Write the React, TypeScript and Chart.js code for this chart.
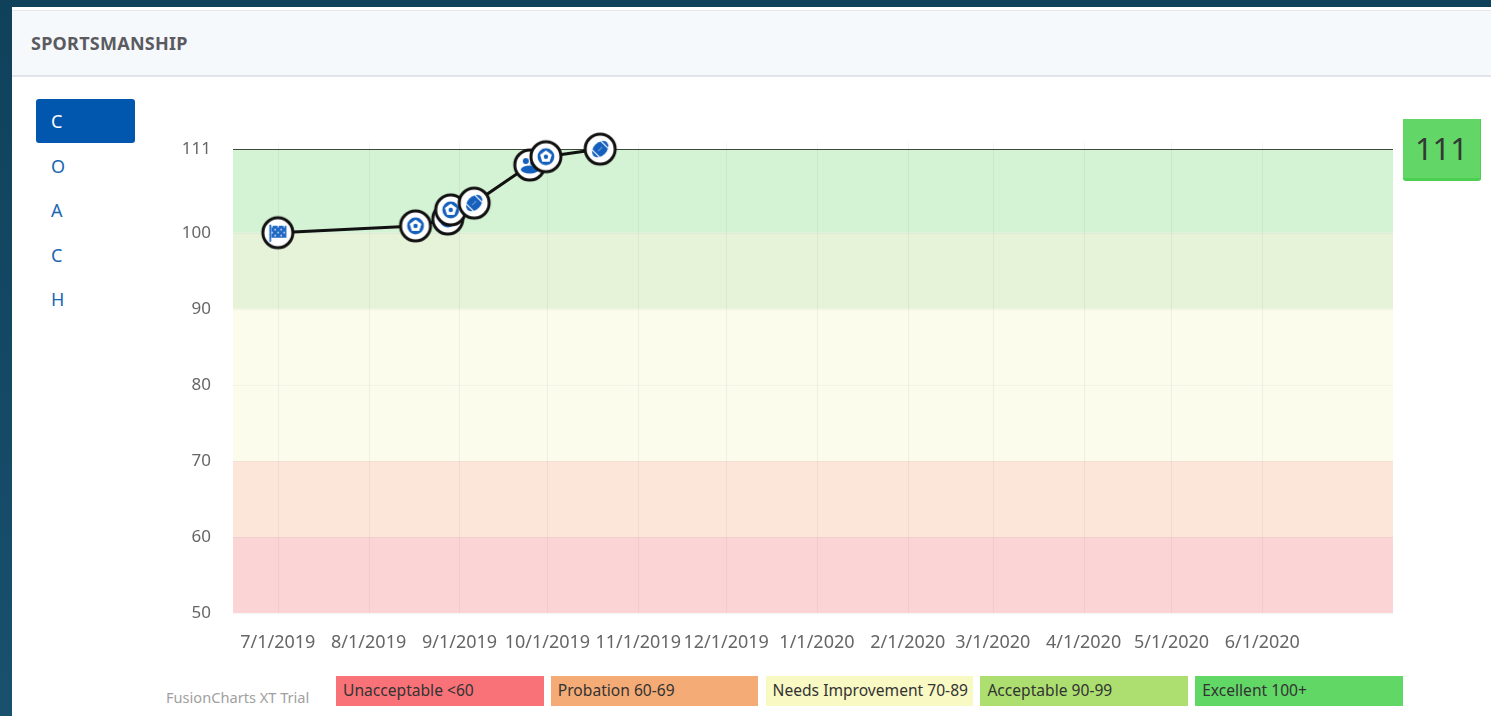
import React, { useEffect, useRef } from "react";
import { Chart, registerables } from "chart.js";

Chart.register(...registerables);

const tabLetters = ["C", "O", "A", "C", "H"];
const monthLabels = ["7/1/2019", "8/1/2019", "9/1/2019", "10/1/2019", "11/1/2019", "12/1/2019", "1/1/2020", "2/1/2020", "3/1/2020", "4/1/2020", "5/1/2020", "6/1/2020"];
const monthDays = [0, 31, 62, 92, 123, 153, 184, 215, 244, 275, 305, 336];
const pointDays = [0, 47, 58, 59, 67, 86, 91.5, 110];
const pointValues = [100, 100.9, 101.8, 103, 103.9, 108.9, 110, 111];
const pointIcons = ["flag", "ball", "ball", "ball", "football", "people", "ball", "football"];
const yTicks = [50, 60, 70, 80, 90, 100, 111];
const bandEdges = [[50, 60], [60, 70], [70, 90], [90, 100], [100, 111]];
const bandColors = ["#fbd5d6", "#fce6d9", "#fbfcec", "#e6f3d8", "#d4f2d4"];
const legendLabels = ["Unacceptable <60", "Probation 60-69", "Needs Improvement 70-89", "Acceptable 90-99", "Excellent 100+"];
const legendColors = ["#f87278", "#f5ab75", "#f9f9c4", "#acdf6f", "#61d765"];

const FONT = '"Noto Sans", sans-serif';
const BLUE = "#1560bd";

function makeIcon(kind: string): HTMLCanvasElement {
  const size = 36;
  const c = document.createElement("canvas");
  c.width = size;
  c.height = size;
  const g = c.getContext("2d")!;
  const m = size / 2;
  g.beginPath();
  g.arc(m, m, 15, 0, Math.PI * 2);
  g.fillStyle = "#ffffff";
  g.fill();
  g.lineWidth = 3;
  g.strokeStyle = "#111111";
  g.stroke();
  g.fillStyle = BLUE;
  g.strokeStyle = BLUE;
  if (kind === "ball") {
    g.beginPath();
    g.arc(m, m, 8.4, 0, Math.PI * 2);
    g.fill();
    g.fillStyle = "#ffffff";
    g.beginPath();
    for (let i = 0; i < 5; i++) {
      const a = -Math.PI / 2 + (i * 2 * Math.PI) / 5;
      const x = m + Math.cos(a) * 6.2;
      const y = m + Math.sin(a) * 6.2;
      if (i === 0) g.moveTo(x, y);
      else g.lineTo(x, y);
    }
    g.closePath();
    g.fill();
    g.fillStyle = BLUE;
    g.beginPath();
    g.arc(m, m, 2.2, 0, Math.PI * 2);
    g.fill();
  } else if (kind === "football") {
    g.save();
    g.translate(m, m);
    g.rotate(-Math.PI / 4);
    g.beginPath();
    g.ellipse(0, 0, 9.5, 6.6, 0, 0, Math.PI * 2);
    g.fill();
    g.strokeStyle = "#6f9fdc";
    g.lineWidth = 1;
    g.beginPath();
    g.moveTo(-3, 0);
    g.lineTo(3, 0);
    g.stroke();
    g.strokeStyle = "#ffffff";
    g.lineWidth = 1.2;
    [-6.2, 6.2].forEach((x) => {
      g.beginPath();
      g.moveTo(x, -5);
      g.lineTo(x, 5);
      g.stroke();
    });
    g.restore();
  } else if (kind === "people") {
    g.beginPath();
    g.arc(m - 4, m - 4, 3, 0, Math.PI * 2);
    g.arc(m + 3, m - 2, 2.6, 0, Math.PI * 2);
    g.fill();
    g.beginPath();
    g.ellipse(m, m + 4.5, 9, 4, 0, 0, Math.PI * 2);
    g.fill();
  } else {
    g.fillStyle = "#1f68c4";
    g.fillRect(m - 8.5, m - 8, 1.8, 17);
    g.fillRect(m - 6.5, m - 7, 15, 12);
    g.fillStyle = "#cfe0f5";
    for (let r = 0; r < 4; r++) {
      for (let k = 0; k < 5; k++) {
        if ((r + k) % 2 === 0) g.fillRect(m - 6.5 + k * 3, m - 7 + r * 3, 1.6, 1.6);
      }
    }
  }
  return c;
}

const bandsPlugin = {
  id: "bands",
  beforeDatasetsDraw(chart: any) {
    const { ctx, chartArea, scales } = chart;
    ctx.save();
    bandEdges.forEach(([lo, hi], i) => {
      const top = scales.y.getPixelForValue(hi);
      const bottom = scales.y.getPixelForValue(lo);
      ctx.fillStyle = bandColors[i];
      ctx.fillRect(chartArea.left, top, chartArea.right - chartArea.left, bottom - top);
    });
    ctx.lineWidth = 1;
    ctx.strokeStyle = "rgba(90,90,90,0.07)";
    monthDays.forEach((d) => {
      const x = Math.round(scales.x.getPixelForValue(d)) + 0.5;
      ctx.beginPath();
      ctx.moveTo(x, chartArea.top);
      ctx.lineTo(x, chartArea.bottom);
      ctx.stroke();
    });
    yTicks.forEach((v) => {
      const y = Math.round(scales.y.getPixelForValue(v)) + 0.5;
      ctx.strokeStyle = v === 111 ? "#3c4a3c" : "rgba(90,90,90,0.05)";
      ctx.beginPath();
      ctx.moveTo(chartArea.left, y);
      ctx.lineTo(chartArea.right, y);
      ctx.stroke();
    });
    ctx.restore();
  },
};

export default function App() {
  const ref = useRef<HTMLCanvasElement>(null);

  useEffect(() => {
    document.body.style.margin = "0";
    const chart = new Chart(ref.current!, {
      type: "line",
      data: {
        datasets: [
          {
            data: pointDays.map((d, i) => ({ x: d, y: pointValues[i] })),
            borderColor: "#111111",
            borderWidth: 3,
            tension: 0,
            clip: false as any,
            pointStyle: pointIcons.map(makeIcon) as any,
            pointRadius: 15,
          },
        ],
      },
      options: {
        animation: false,
        responsive: false,
        layout: { autoPadding: false, padding: { top: 43, right: 7, left: 0, bottom: 0 } },
        plugins: { legend: { display: false }, tooltip: { enabled: false } },
        scales: {
          x: {
            type: "linear",
            min: -15.3,
            max: 380.6,
            grid: { display: false },
            border: { display: false },
            afterBuildTicks: (s: any) => {
              s.ticks = monthDays.map((value) => ({ value }));
            },
            afterFit: (s: any) => {
              s.height = 47;
              s.paddingLeft = 0;
              s.paddingRight = 0;
            },
            ticks: {
              autoSkip: false,
              maxRotation: 0,
              minRotation: 0,
              padding: 11,
              color: "#666666",
              font: { family: FONT, size: 18 },
              callback: (v: any) => monthLabels[monthDays.indexOf(Number(v))],
            },
          },
          y: {
            type: "linear",
            min: 50,
            max: 111.8,
            grid: { display: false },
            border: { display: false },
            afterBuildTicks: (s: any) => {
              s.ticks = yTicks.map((value) => ({ value }));
            },
            afterFit: (s: any) => {
              s.width = 83;
            },
            ticks: {
              autoSkip: false,
              padding: 14,
              labelOffset: 0,
              color: "#666666",
              font: { family: FONT, size: 17 },
            },
          },
        },
      },
      plugins: [bandsPlugin],
    } as any);
    return () => chart.destroy();
  }, []);

  return (
    <div
      style={{
        position: "fixed",
        left: 0,
        top: 0,
        width: 1491,
        height: 716,
        overflow: "hidden",
        background: "linear-gradient(180deg,#0f415b 0%,#18506e 100%)",
        fontFamily: FONT,
        filter: "blur(0.4px)",
      }}
    >
      <div style={{ position: "absolute", left: 12, top: 7, right: 0, bottom: 0, background: "#ffffff" }} />
      <div
        style={{
          position: "absolute",
          left: 12,
          top: 10,
          right: 0,
          height: 67,
          background: "#f5f9fc",
          borderTop: "1px solid #e4e7eb",
          borderBottom: "2px solid #e1e5ea",
          boxSizing: "border-box",
        }}
      />
      <div style={{ position: "absolute", left: 31, top: 31, fontSize: 18, fontWeight: 700, color: "#5b5b5f", lineHeight: "24px", letterSpacing: 0.25 }}>
        SPORTSMANSHIP
      </div>
      <div style={{ position: "absolute", left: 36, top: 99, width: 99, height: 44, background: "#0057ad", borderRadius: 3 }} />
      {tabLetters.map((t, i) => (
        <div
          key={i}
          style={{
            position: "absolute",
            left: 51,
            top: 109 + i * 44.6,
            fontSize: 18,
            lineHeight: "24px",
            color: i === 0 ? "#ffffff" : "#1a66b3",
          }}
        >
          {t}
        </div>
      ))}
      <canvas ref={ref} width={1250} height={560} style={{ position: "absolute", left: 150, top: 100, width: 1250, height: 560 }} />
      <div
        style={{
          position: "absolute",
          left: 1403,
          top: 119,
          width: 78,
          height: 62,
          boxSizing: "border-box",
          background: "#62d666",
          borderBottom: "3px solid #4ccf50",
          borderRight: "1px solid #4ccf50",
          borderRadius: "0 0 3px 3px",
          textAlign: "center",
          fontSize: 31,
          lineHeight: "58px",
          color: "#333833",
        }}
      >
        111
      </div>
      <div style={{ position: "absolute", left: 166, top: 688, fontSize: 14.6, lineHeight: "18px", color: "#a0a0a0" }}>FusionCharts XT Trial</div>
      {legendLabels.map((t, i) => (
        <div
          key={t}
          style={{
            position: "absolute",
            left: 336 + i * 214.8,
            top: 676,
            width: 207.5,
            height: 30,
            background: legendColors[i],
            boxSizing: "border-box",
            paddingLeft: 7,
            fontSize: 15.6,
            lineHeight: "29px",
            color: "#333333",
            whiteSpace: "nowrap",
          }}
        >
          {t}
        </div>
      ))}
    </div>
  );
}
